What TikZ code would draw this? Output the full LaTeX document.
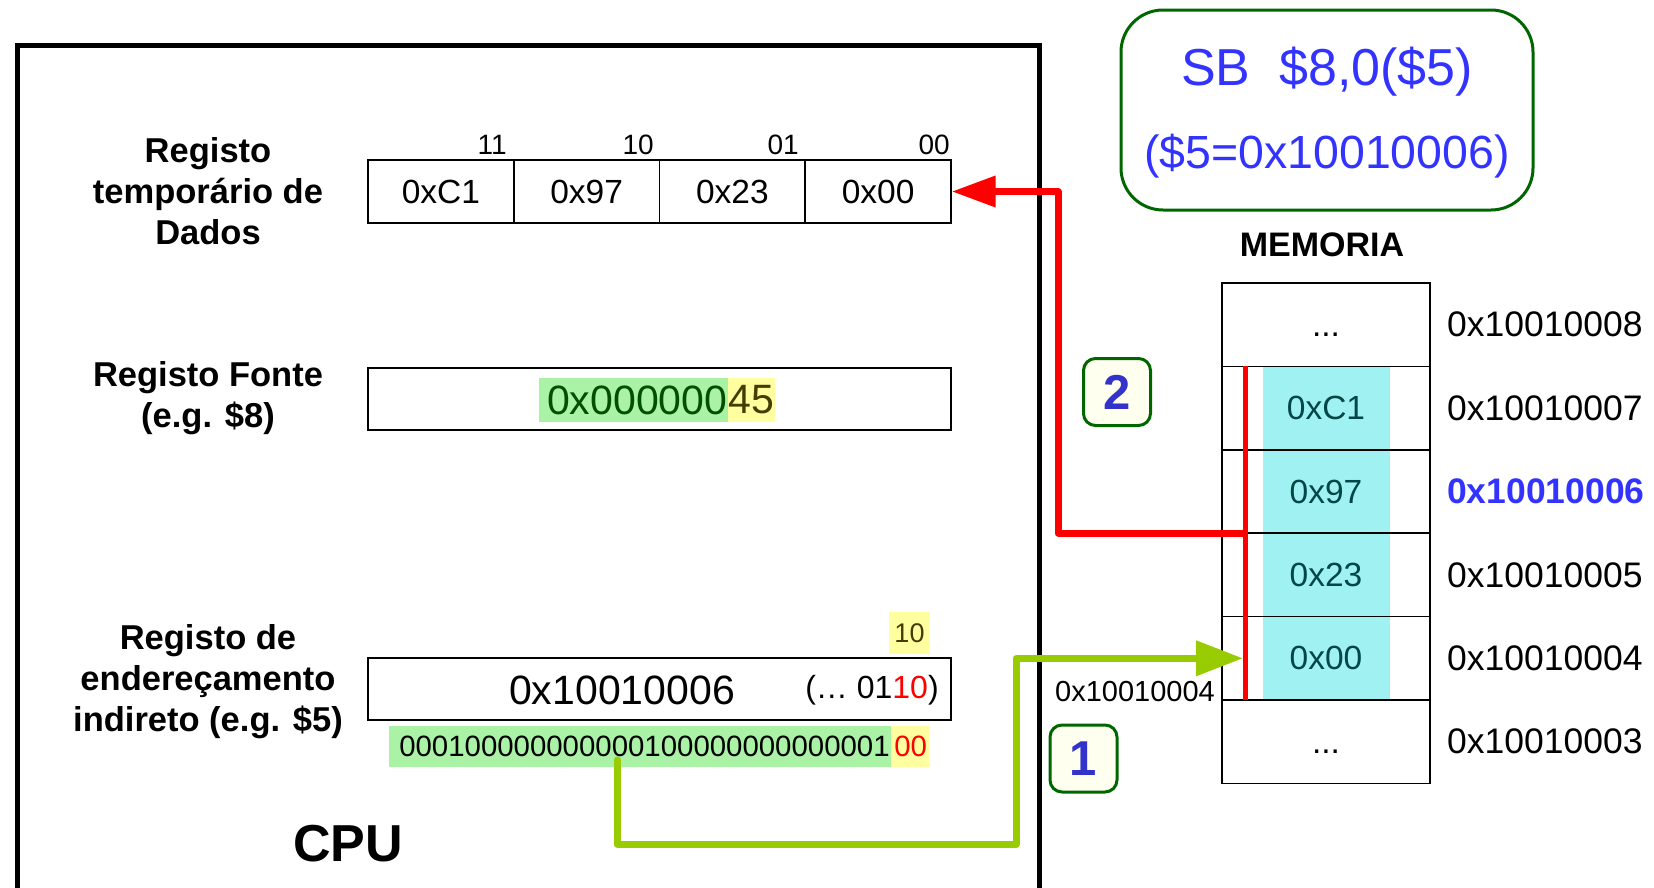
\documentclass[tikz,border=0pt]{standalone}
\usepackage{fontspec}
\setmainfont{Liberation Sans}
\usetikzlibrary{arrows.meta}
\definecolor{tblue}{RGB}{51,51,255}
\definecolor{nblue}{RGB}{51,51,204}
\definecolor{dgreen}{RGB}{0,102,0}
\definecolor{agreen}{RGB}{153,204,0}
\definecolor{hgreen}{RGB}{170,242,165}
\definecolor{hyellow}{RGB}{255,255,160}
\definecolor{hcyan}{RGB}{160,242,242}
\definecolor{tgreen}{RGB}{0,80,0}
\definecolor{tolive}{RGB}{70,60,0}
\definecolor{tteal}{RGB}{0,70,70}
\definecolor{ivory}{RGB}{255,255,240}
\newcommand\fsz[2]{\fontsize{#1}{#2}\selectfont}
\begin{document}
\begin{tikzpicture}[x=1pt,y=-1pt,
  lbl/.style={font=\bfseries\fsz{34.5}{41}, align=center, inner sep=0pt},
  cell/.style={draw, line width=1.5pt, minimum height=63pt, inner sep=0pt},
  mcell/.style={draw, line width=1.5pt, minimum width=208pt, minimum height=83.4pt, inner sep=0pt, font=\fsz{33.5}{40}, text=tteal},
  madr/.style={anchor=west, inner sep=0pt, font=\fsz{35.5}{40}},
  bitl/.style={anchor=east, inner sep=0pt, font=\fsz{28}{30}},
  numbox/.style={draw=dgreen, line width=3pt, fill=ivory, rounded corners=12pt, minimum width=67pt, minimum height=67pt, inner sep=0pt, text=nblue, font=\bfseries\fsz{49}{50}},
  garrow/.style={draw=agreen, line width=7pt, line join=round, -{Triangle[length=47pt,width=34pt]}},
  rarrow/.style={draw=red, line width=7pt, line join=round, -{Triangle[length=44pt,width=30pt]}}]
\useasboundingbox (0,0) rectangle (1654,887);

% CPU
\node (cpu) [draw, line width=4.5pt, minimum width=1022pt, minimum height=880pt, anchor=north west, inner sep=0pt] at (15,43) {};
\node (cpul) [font=\bfseries\fsz{52}{60}, inner sep=0pt] at (348,844) {CPU};

% Registo temporario
\node (lt) [lbl] at (208,191) {Registo\\temporário de\\Dados};
\node (t3) [cell, minimum width=145.75pt, font=\fsz{33.5}{40}] at (440.9,191.5) {0xC1};
\node (t2) [cell, minimum width=145.75pt, font=\fsz{33.5}{40}] at (586.6,191.5) {0x97};
\node (t1) [cell, minimum width=145.75pt, font=\fsz{33.5}{40}] at (732.4,191.5) {0x23};
\node (t0) [cell, minimum width=145.75pt, font=\fsz{33.5}{40}] at (878.1,191.5) {0x00};
\node (b3) [bitl] at (507,145) {11};
\node (b2) [bitl] at (654,145) {10};
\node (b1) [bitl] at (799,145) {01};
\node (b0) [bitl] at (950,145) {00};

% Registo Fonte
\node (lf) [lbl] at (208,398) {Registo Fonte\\(e.g. \$8)};
\node (fonte) [cell, minimum width=583pt, minimum height=62pt] at (659.5,399) {};
\node (fg) [fill=hgreen, anchor=east, minimum height=44pt, text width=188pt, align=right, inner xsep=0.5pt, inner ysep=0pt, text=tgreen, font=\fsz{41}{44}] at (728,400) {0x000000};
\node (fy) [fill=hyellow, anchor=west, minimum height=44pt, inner xsep=0.5pt, inner ysep=0pt, text=tolive, font=\fsz{41}{44}] at (fg.east) {45};

% Registo de enderecamento
\node (le) [lbl] at (208,682) {Registo de\\endereçamento\\indireto (e.g. \$5)};
\node (addr) [cell, minimum width=583pt, minimum height=62pt] at (659.5,689) {};
\node (av) [inner sep=0pt, font=\fsz{41}{44}] at (622,690) {0x10010006};
\node (ab) [inner sep=0pt, font=\fsz{32}{36}] at (872,690) {(… 01\textcolor{red}{10})};
\node (ten) [fill=hyellow, minimum width=41pt, minimum height=42pt, inner sep=0pt, text=tolive, font=\fsz{27}{30}] at (909.5,633) {10};
\node (bg) [fill=hgreen, anchor=east, minimum height=41pt, text width=500pt, align=right, inner xsep=1pt, inner ysep=0pt, font=\fsz{29.4}{32}] at (891,746.5) {000100000000000100000000000001};
\node (by) [fill=hyellow, anchor=west, minimum height=41pt, minimum width=39pt, inner xsep=1pt, inner ysep=0pt, text=red, font=\fsz{29.4}{32}] at (bg.east) {00};

% Title
\node (title) [draw=dgreen, line width=3pt, rounded corners=42pt, minimum width=412pt, minimum height=200pt] at (1327,110) {};
\node (t1l) [text=tblue, inner sep=0pt, font=\fsz{52}{55}] at (1327,72) {SB\ \ \$8,0(\$5)};
\node (t2l) [text=tblue, inner sep=0pt, font=\fsz{46.5}{50}] at (1327,156) {(\$5=0x10010006)};

% Memory
\node (meml) [font=\bfseries\fsz{34}{36}, inner sep=0pt] at (1322,245) {MEMORIA};
\node (hl) [fill=hcyan, minimum width=127pt, minimum height=333.6pt, inner sep=0pt] at (1326.5,533.2) {};
\node (m8) [mcell, text=black] at (1326,324.7) {\vphantom{0x}...};
\node (m7) [mcell] at (1326,408.1) {0xC1};
\node (m6) [mcell] at (1326,491.5) {0x97};
\node (m5) [mcell] at (1326,574.9) {0x23};
\node (m4) [mcell] at (1326,658.3) {0x00};
\node (m3) [mcell, text=black] at (1326,741.7) {\vphantom{0x}...};
\node (a8) [madr] at (1447,324.7) {0x10010008};
\node (a7) [madr] at (1447,408.1) {0x10010007};
\node (a6) [madr, text=tblue, font=\bfseries\fsz{35.5}{40}] at (1447,491.5) {0x10010006};
\node (a5) [madr] at (1447,574.9) {0x10010005};
\node (a4) [madr] at (1447,658.3) {0x10010004};
\node (a3) [madr] at (1447,741.7) {0x10010003};

% small label and step boxes
\node (sl) [inner sep=0pt, font=\fsz{29}{30}] at (1135,692) {0x10010004};
\node (n2) [numbox] at (1117,392) {2};
\node (n1) [numbox] at (1083.5,758.5) {1};

% red bus on memory
\coordinate (rtop) at (1245,366.4);
\coordinate (rbot) at (1245,700);
\coordinate (rmid) at (1245,533.2);
\draw[red, line width=5pt] (rtop) -- (rbot);
\draw[rarrow] (rmid) -- (1058,533.2) |- (t0.east);

% green arrow
\coordinate (gs) at (617,760);
\coordinate (ge) at (1243,658.3);
\draw[garrow, line cap=round] (gs) -- (617,844) -| (1016,658.3) -- (ge);
\end{tikzpicture}
\end{document}
